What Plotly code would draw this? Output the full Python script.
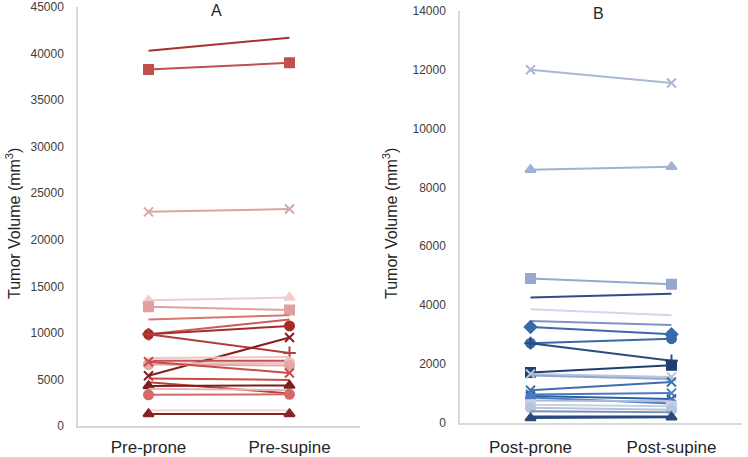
import plotly.graph_objects as go

# ---------------- data ----------------
cats_A = ["Pre-prone", "Pre-supine"]
cats_B = ["Post-prone", "Post-supine"]

pre_prone = [40300, 38300, 23000, 13500, 12800, 11450, 9850, 9850, 9850, 5400,
             7300, 7000, 6700, 6600, 6900, 5100, 4700, 4300, 4000, 3350, 1700, 1300]
pre_supine = [41700, 39000, 23300, 13800, 12450, 11900, 11450, 10750, 7850, 9500,
              7400, 7000, 6800, 6500, 5700, 4950, 3500, 4350, 3850, 3400, 1700, 1300]

post_prone = [12000, 8600, 4900, 4250, 3850, 3450, 3250, 2700, 2700, 1700, 1650,
              1600, 1100, 950, 900, 850, 750, 600, 500, 380, 200, 150]
post_supine = [11550, 8700, 4700, 4380, 3650, 3320, 3000, 2850, 2100, 1950, 1550,
               1480, 1380, 1000, 800, 650, 720, 550, 430, 350, 200, 180]

# ---------------- styles ----------------
col_A = ["#a8302e", "#c0504d", "#dba3a3", "#f0cccc", "#e0a0a0", "#d77575", "#c95c5a",
         "#a52a2a", "#b23c3a", "#8b1f1f", "#f2c6c6", "#c0504d", "#ecc0c0", "#e3a7a7",
         "#c94b48", "#cc4a46", "#b84040", "#7a1f1f", "#e8b4b4", "#d46a67", "#f3d4d4", "#8b2323"]
sym_A = [None, "square", "x-thin", "triangle-up", "square", None, None, "circle",
         "cross-thin", "x-thin", None, None, "circle", "circle", "x-thin", None, None,
         "triangle-up", None, "circle", None, "triangle-up"]

col_B = ["#aab8d4", "#9fb1d4", "#95a9d0", "#2c4f85", "#d0d9ea", "#7f95bd", "#3a6aab",
         "#3b68a8", "#284c80", "#1f3f6e", "#b8c7e0", "#8fa7cf", "#3d6fb0", "#4a7bbf",
         "#2f5f9f", "#4b7cc0", "#a9bbd9", "#c5d0e3", "#b5c4de", "#7892c0", "#274a7d", "#2a4a7a"]
sym_B = ["x-thin", "triangle-up", "square", None, None, None, "diamond", "circle",
         "cross-thin", "square", "x-thin", None, "x-thin", "x-thin", "x-thin", "circle",
         None, "square", "circle", None, None, "triangle-up"]

FONT = "Liberation Sans, Arial, sans-serif"
fig = go.Figure()


def add_panel(prone, supine, cats, cols, syms, xa, ya):
    for a, b, c, s in zip(prone, supine, cols, syms):
        mode = "lines+markers" if s else "lines"
        marker = dict(symbol=s or "circle", size=9, color=c,
                      line=dict(color=c, width=2))
        fig.add_trace(go.Scatter(x=cats, y=[a, b], mode=mode,
                                 line=dict(color=c, width=2), marker=marker,
                                 xaxis=xa, yaxis=ya, showlegend=False,
                                 hoverinfo="skip", cliponaxis=False))


add_panel(pre_prone, pre_supine, cats_A, col_A, sym_A, "x", "y")
add_panel(post_prone, post_supine, cats_B, col_B, sym_B, "x2", "y2")

W, H = 748, 457
axA = [78 / W, 360 / W]
axB = [460 / W, 742 / W]
yA = [(H - 426) / H, (H - 7) / H]
yB = [(H - 422.5) / H, (H - 11) / H]

xcommon = dict(type="category", range=[-0.5, 1.5], showgrid=False, zeroline=False,
               showline=True, linecolor="#d9d9d9", linewidth=1.5, automargin=False,
               ticks="outside", tickcolor="rgba(0,0,0,0)",
               tickfont=dict(family=FONT, size=17, color="#262626"))
ycommon = dict(showgrid=False, zeroline=False, showline=True, linecolor="#d9d9d9",
               linewidth=1.5, ticks="outside", ticklen=10, tickcolor="rgba(0,0,0,0)",
               automargin=False,
               tickfont=dict(family=FONT, size=12, color="#404040"),
               tickformat="d")

ann_font = dict(family=FONT, size=16, color="#262626")
fig.update_layout(
    width=W, height=H, margin=dict(l=0, r=0, t=0, b=0),
    paper_bgcolor="white", plot_bgcolor="white",
    xaxis=dict(domain=axA, anchor="y", ticklen=5, **xcommon),
    yaxis=dict(domain=yA, anchor="x", range=[0, 45000], dtick=5000, **ycommon),
    xaxis2=dict(domain=axB, anchor="y2", ticklen=8, **xcommon),
    yaxis2=dict(domain=yB, anchor="x2", range=[0, 14000], dtick=2000, **ycommon),
    annotations=[
        dict(text="Tumor Volume (mm<sup>3</sup>)", x=13 / W, y=(H - 224) / H,
             xref="paper", yref="paper", textangle=-90, showarrow=False,
             xanchor="center", yanchor="middle", font=ann_font),
        dict(text="Tumor Volume (mm<sup>3</sup>)", x=390 / W, y=(H - 224) / H,
             xref="paper", yref="paper", textangle=-90, showarrow=False,
             xanchor="center", yanchor="middle", font=ann_font),
        dict(text="A", x=216 / W, y=(H - 10) / H, xref="paper", yref="paper",
             xanchor="center", yanchor="middle", showarrow=False, font=ann_font),
        dict(text="B", x=598 / W, y=(H - 14) / H, xref="paper", yref="paper",
             xanchor="center", yanchor="middle", showarrow=False, font=ann_font),
    ],
)

fig.write_html("out.html", config={"displayModeBar": False},
               post_script="document.body.style.margin='0px';"
                           "document.body.style.overflow='hidden';")
